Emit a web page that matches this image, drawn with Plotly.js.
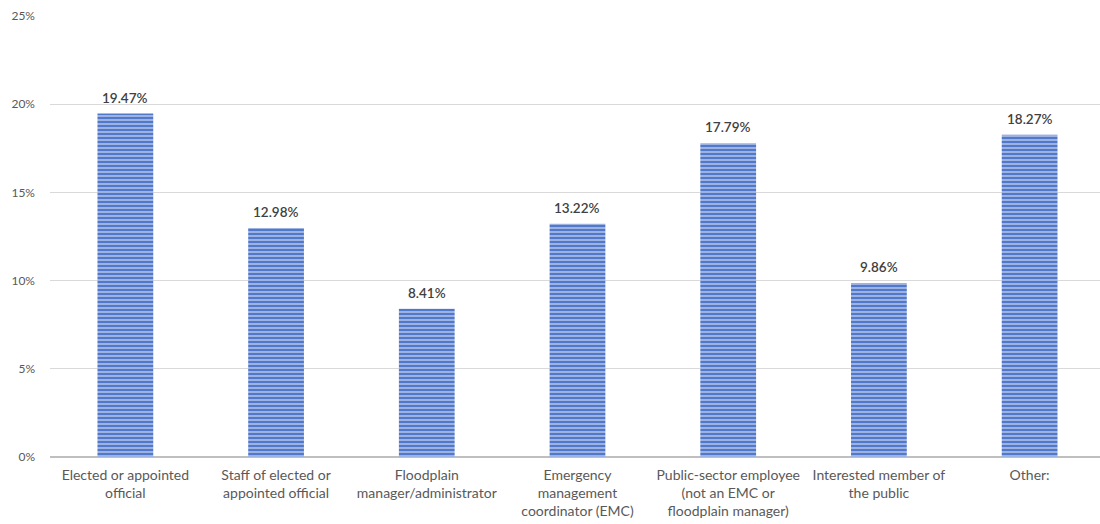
<!DOCTYPE html>
<html>
<head>
<meta charset="utf-8">
<script src="https://cdn.plot.ly/plotly-3.0.1.min.js"></script>
<style>html,body{margin:0;padding:0;background:#fff;}#chart{width:1100px;height:524px;}</style>
</head>
<body>
<div id="chart"></div>
<script>
const categories = [
  "Elected or appointed<br>official",
  "Staff of elected or<br>appointed official",
  "Floodplain<br>manager/administrator",
  "Emergency<br>management<br>coordinator (EMC)",
  "Public-sector employee<br>(not an EMC or<br>floodplain manager)",
  "Interested member of<br>the public",
  "Other:"
];
const values = [19.47, 12.98, 8.41, 13.22, 17.79, 9.86, 18.27];
const valueLabels = values.map(v => v.toFixed(2) + "%");
const yTickVals = [0, 5, 10, 15, 20, 25];
const yTickText = ["0%", "5%", "10%", "15%", "20%", "25%"];

const FONT = "Lato, 'Open Sans', sans-serif";

const trace = {
  type: "bar",
  x: categories,
  y: values,
  width: 0.37,
  hoverinfo: "none",
  marker: {
    color: "#9bb2e2",
    line: {width: 0},
    pattern: {shape: "-", fgcolor: "#4a72c6", bgcolor: "#9bb2e2", size: 4, solidity: 0.45, fillmode: "replace"}
  }
};

const annotations = categories.map((c, i) => ({
  x: c, y: values[i], xref: "x", yref: "y",
  text: valueLabels[i],
  showarrow: false,
  yanchor: "bottom",
  yshift: 6,
  font: {family: FONT, size: 13.5, color: "#404040", weight: 600}
}));

const layout = {
  width: 1100, height: 524,
  margin: {l: 50, r: 0, t: 16, b: 67},
  paper_bgcolor: "#ffffff",
  plot_bgcolor: "#ffffff",
  showlegend: false,
  font: {family: FONT, size: 11, color: "#595959"},
  annotations: annotations,
  xaxis: {
    type: "category",
    range: [-0.5, 6.467],
    showgrid: false,
    showline: false,
    zeroline: false,
    ticks: "",
    tickangle: 0,
    ticklabelstandoff: 8,
    tickfont: {family: FONT, size: 14, color: "#595959"},
    automargin: false
  },
  yaxis: {
    range: [0, 25],
    tickvals: yTickVals,
    ticktext: yTickText,
    showgrid: true,
    gridcolor: "#d9d9d9",
    gridwidth: 1,
    zeroline: true,
    zerolinecolor: "#bfbfbf",
    zerolinewidth: 2,
    showline: false,
    ticks: "",
    ticklabelstandoff: 14,
    tickfont: {family: FONT, size: 12, color: "#595959"},
    automargin: false
  }
};

Plotly.newPlot("chart", [trace], layout, {displayModeBar: false, staticPlot: true});
</script>
</body>
</html>
